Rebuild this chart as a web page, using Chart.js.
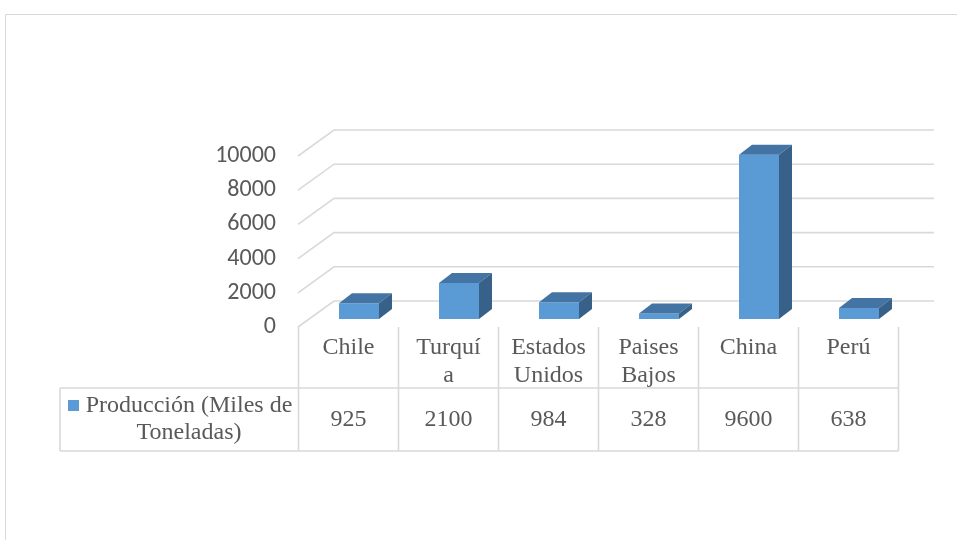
<!DOCTYPE html>
<html>
<head>
<meta charset="utf-8">
<script src="https://cdn.jsdelivr.net/npm/chart.js@4"></script>
<style>
    html, body { margin: 0; padding: 0; background: #fff; }
    #wrap { width: 957px; height: 540px; }
</style>
</head>
<body>
<div id="wrap"><canvas id="chart" width="957" height="540"></canvas></div>
<script>
// Data
const categories = ['Chile', ['Turquí', 'a'], ['Estados', 'Unidos'], ['Paises', 'Bajos'], 'China', 'Perú'];
const produccion = [925, 2100, 984, 328, 9600, 638];
const seriesName = 'Producción (Miles de Toneladas)';
const yTicks = [0, 2000, 4000, 6000, 8000, 10000];

// Fake 3D: offsets from the bar plane to the front and back of the floor
const FRONT_DX = -11, FRONT_DY = 8;
const BACK_DX = 25, BACK_DY = -18;
const BAR_DX = 13, BAR_DY = 10;

const GRID = '#d9d9d9';
const TEXT = '#595959';

function wrapText(ctx, text, maxWidth) {
    const words = text.split(' ');
    const lines = [];
    let line = '';
    words.forEach(w => {
        const test = line ? line + ' ' + w : w;
        if (ctx.measureText(test).width > maxWidth && line) {
            lines.push(line);
            line = w;
        } else {
            line = test;
        }
    });
    if (line) lines.push(line);
    return lines;
}

const wallsPlugin = {
    id: 'walls',
    beforeDraw(chart) {
        const ctx = chart.ctx;
        // outer frame
        ctx.save();
        ctx.strokeStyle = GRID;
        ctx.lineWidth = 1;
        ctx.beginPath();
        ctx.moveTo(5.5, 540);
        ctx.lineTo(5.5, 14.5);
        ctx.lineTo(957, 14.5);
        ctx.stroke();
        ctx.restore();
    },
    beforeDatasetsDraw(chart) {
        const ctx = chart.ctx;
        const y = chart.scales.y;
        const area = chart.chartArea;
        ctx.save();
        ctx.strokeStyle = GRID;
        ctx.lineWidth = 1.6;
        yTicks.forEach(v => {
            const py = y.getPixelForValue(v);
            ctx.beginPath();
            ctx.moveTo(area.left + FRONT_DX, py + FRONT_DY);
            ctx.lineTo(area.left + BACK_DX, py + BACK_DY);
            ctx.lineTo(area.right + BACK_DX, py + BACK_DY);
            ctx.stroke();
        });
        ctx.restore();
    },
    afterDatasetsDraw(chart) {
        const ctx = chart.ctx;
        const meta = chart.getDatasetMeta(0);
        ctx.save();
        meta.data.forEach(bar => {
            const p = bar.getProps(['x', 'y', 'base', 'width'], true);
            const l = p.x - p.width / 2, r = p.x + p.width / 2;
            // top face
            ctx.fillStyle = '#4474a3';
            ctx.beginPath();
            ctx.moveTo(l, p.y);
            ctx.lineTo(r, p.y);
            ctx.lineTo(r + BAR_DX, p.y - BAR_DY);
            ctx.lineTo(l + BAR_DX, p.y - BAR_DY);
            ctx.closePath();
            ctx.fill();
            // side face
            ctx.fillStyle = '#386189';
            ctx.beginPath();
            ctx.moveTo(r, p.y);
            ctx.lineTo(r + BAR_DX, p.y - BAR_DY);
            ctx.lineTo(r + BAR_DX, p.base - BAR_DY);
            ctx.lineTo(r, p.base);
            ctx.closePath();
            ctx.fill();
        });
        ctx.restore();
    },
    afterDraw(chart) {
        // data table under the plot
        const ctx = chart.ctx;
        const x = chart.scales.x;
        const y = chart.scales.y;
        const half = (x.getPixelForValue(1) - x.getPixelForValue(0)) / 2;
        const top = Math.round(y.getPixelForValue(0) + FRONT_DY);
        const mid = top + 61;
        const bottom = mid + 63;
        const tableLeft = 60;
        const colEdge = i => Math.round(x.getPixelForValue(i) + FRONT_DX - half) + 0.5;
        const n = categories.length;

        ctx.save();
        ctx.strokeStyle = GRID;
        ctx.lineWidth = 1.6;
        ctx.beginPath();
        for (let i = 0; i <= n; i++) {
            const cx = i < n ? colEdge(i) : colEdge(n - 1) + half * 2;
            ctx.moveTo(cx, top);
            ctx.lineTo(cx, bottom);
        }
        ctx.moveTo(tableLeft, mid);
        ctx.lineTo(colEdge(n - 1) + half * 2, mid);
        ctx.moveTo(tableLeft, bottom);
        ctx.lineTo(colEdge(n - 1) + half * 2, bottom);
        ctx.moveTo(tableLeft, mid);
        ctx.lineTo(tableLeft, bottom);
        ctx.stroke();

        ctx.fillStyle = TEXT;
        ctx.font = '24px "Liberation Serif", "Times New Roman", serif';
        ctx.textAlign = 'center';
        ctx.textBaseline = 'middle';
        categories.forEach((c, i) => {
            const cx = colEdge(i) + half;
            const lines = Array.isArray(c) ? c : [c];
            lines.forEach((t, k) => ctx.fillText(t, cx, top + 21 + k * 28));
            ctx.fillText(String(produccion[i]), cx, mid + 32);
        });

        // legend key + series name
        ctx.fillStyle = '#5b9bd5';
        ctx.fillRect(68, mid + 12, 11, 11);
        ctx.fillStyle = TEXT;
        const nameLines = wrapText(ctx, seriesName, 215);
        nameLines.forEach((t, k) => ctx.fillText(t, 189, mid + 18 + k * 27));
        ctx.restore();
    }
};

new Chart(document.getElementById('chart'), {
    type: 'bar',
    data: {
        labels: categories,
        datasets: [{
            label: seriesName,
            data: produccion,
            backgroundColor: '#5b9bd5',
            borderWidth: 0,
            barPercentage: 0.4,
            categoryPercentage: 1
        }]
    },
    options: {
        responsive: false,
        animation: false,
        layout: { padding: { top: 148, bottom: 221, left: 0, right: 48 } },
        plugins: {
            legend: { display: false },
            tooltip: { enabled: false }
        },
        scales: {
            x: { display: false },
            y: {
                min: 0,
                max: 10000,
                afterFit: scale => { scale.width = 309; },
                afterBuildTicks: scale => { scale.ticks = yTicks.map(v => ({ value: v })); },
                grid: { display: false, drawTicks: false },
                border: { display: false },
                ticks: {
                    padding: 33,
                    labelOffset: 8,
                    color: TEXT,
                    font: { family: 'Carlito, "Liberation Sans", sans-serif', size: 24 },
                    callback: v => String(v)
                }
            }
        }
    },
    plugins: [wallsPlugin]
});
</script>
</body>
</html>
